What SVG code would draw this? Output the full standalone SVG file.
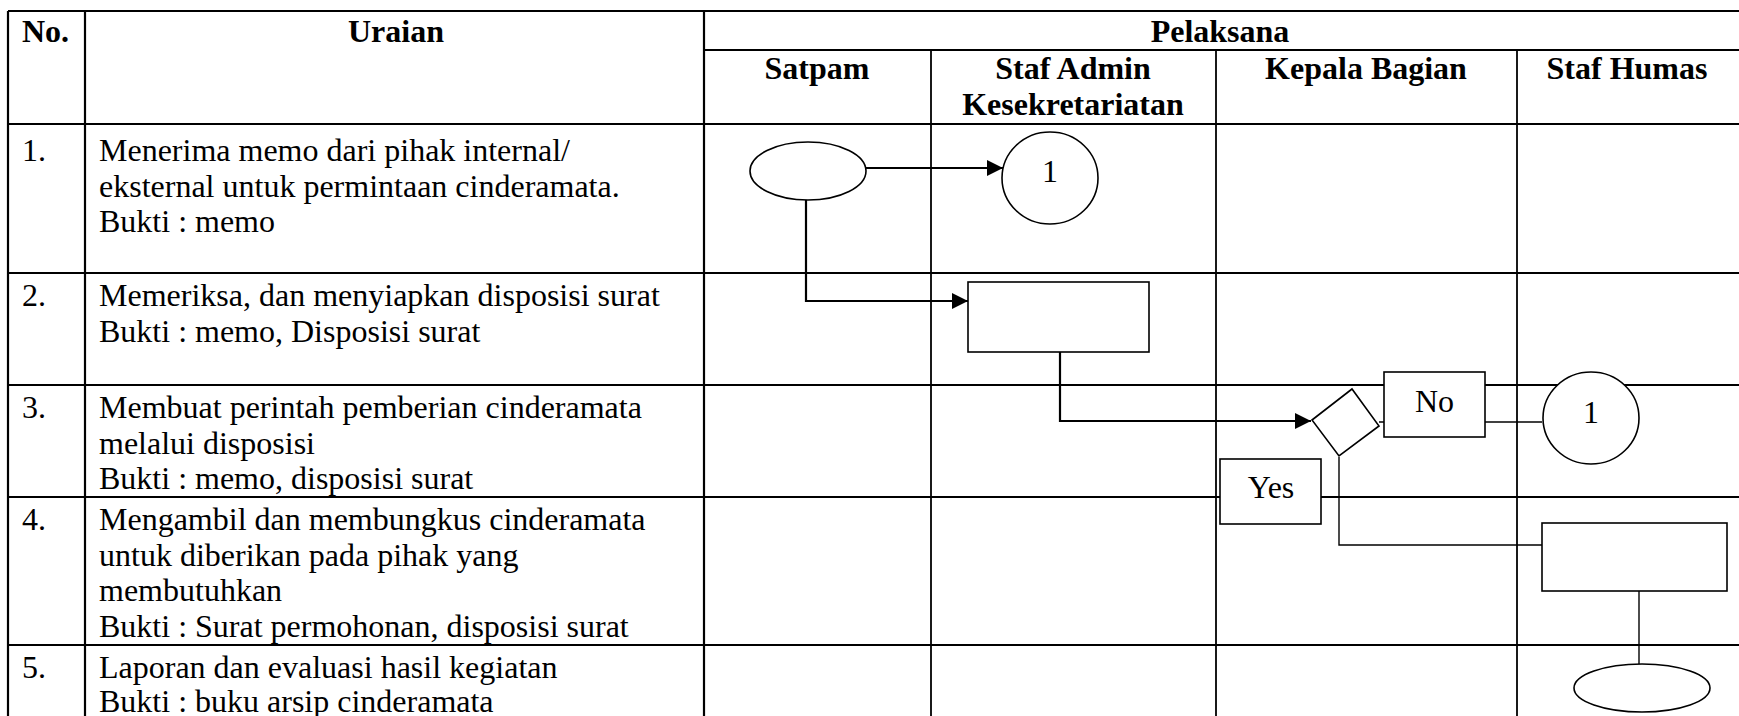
<svg xmlns="http://www.w3.org/2000/svg" width="1739" height="716" viewBox="0 0 1739 716">
<style>
  .grid { stroke: #000; stroke-width: 2.2; fill: none; }
  .gridthin { stroke: #000; stroke-width: 1.8; fill: none; }
  .shape { fill: #fff; stroke: #000; stroke-width: 1.6; }
  .conn { fill: none; stroke: #000; stroke-width: 1.4; }
  .arrow { fill: none; stroke: #000; stroke-width: 2.2; }
  .hd { font-family: "Liberation Serif", "Times New Roman", serif; font-weight: bold; font-size: 32px; fill: #000; }
  .tx { font-family: "Liberation Serif", "Times New Roman", serif; font-size: 32px; fill: #000; }
</style>
<defs>
  <marker id="ah" markerUnits="userSpaceOnUse" markerWidth="18" markerHeight="18" refX="16" refY="8" orient="auto">
    <path d="M0,0 L16,8 L0,16 Z" fill="#000"/>
  </marker>
</defs>
<rect x="0" y="0" width="1739" height="716" fill="#fff"/>

<g id="table">
  <line class="grid" x1="8" y1="11" x2="1739" y2="11"/>
  <line class="grid" x1="704" y1="50" x2="1739" y2="50"/>
  <line class="grid" x1="8" y1="124" x2="1739" y2="124"/>
  <line class="grid" x1="8" y1="273" x2="1739" y2="273"/>
  <line class="grid" x1="8" y1="385" x2="1739" y2="385"/>
  <line class="grid" x1="8" y1="497" x2="1739" y2="497"/>
  <line class="grid" x1="8" y1="645" x2="1739" y2="645"/>
  <line class="grid" x1="8" y1="11" x2="8" y2="716"/>
  <line class="grid" x1="85" y1="11" x2="85" y2="716"/>
  <line class="grid" x1="704" y1="11" x2="704" y2="716"/>
  <line class="gridthin" x1="931" y1="50" x2="931" y2="716"/>
  <line class="gridthin" x1="1216" y1="50" x2="1216" y2="716"/>
  <line class="gridthin" x1="1517" y1="50" x2="1517" y2="716"/>
</g>

<g id="headers">
  <text class="hd" x="22" y="42">No.</text>
  <text class="hd" x="396" y="42" text-anchor="middle">Uraian</text>
  <text class="hd" x="1220" y="42" text-anchor="middle">Pelaksana</text>
  <text class="hd" x="817" y="79" text-anchor="middle">Satpam</text>
  <text class="hd" x="1073" y="79" text-anchor="middle">Staf Admin</text>
  <text class="hd" x="1073" y="115" text-anchor="middle">Kesekretariatan</text>
  <text class="hd" x="1366" y="79" text-anchor="middle">Kepala Bagian</text>
  <text class="hd" x="1627" y="79" text-anchor="middle">Staf Humas</text>
</g>

<g id="rows">
  <text class="tx" x="22" y="161">1.</text>
  <text class="tx" x="99" y="161">Menerima memo dari pihak internal/</text>
  <text class="tx" x="99" y="196.5">eksternal untuk permintaan cinderamata.</text>
  <text class="tx" x="99" y="232">Bukti : memo</text>

  <text class="tx" x="22" y="306">2.</text>
  <text class="tx" x="99" y="306">Memeriksa, dan menyiapkan disposisi surat</text>
  <text class="tx" x="99" y="341.5">Bukti : memo, Disposisi surat</text>

  <text class="tx" x="22" y="418">3.</text>
  <text class="tx" x="99" y="418">Membuat perintah pemberian cinderamata</text>
  <text class="tx" x="99" y="453.5">melalui disposisi</text>
  <text class="tx" x="99" y="489">Bukti : memo, disposisi surat</text>

  <text class="tx" x="22" y="530">4.</text>
  <text class="tx" x="99" y="530">Mengambil dan membungkus cinderamata</text>
  <text class="tx" x="99" y="565.5">untuk diberikan pada pihak yang</text>
  <text class="tx" x="99" y="601">membutuhkan</text>
  <text class="tx" x="99" y="636.5">Bukti : Surat permohonan, disposisi surat</text>

  <text class="tx" x="22" y="678">5.</text>
  <text class="tx" x="99" y="678">Laporan dan evaluasi hasil kegiatan</text>
  <text class="tx" x="99" y="712">Bukti : buku arsip cinderamata</text>
</g>

<g id="connectors">
  <line class="arrow" x1="866" y1="168" x2="1003" y2="168" marker-end="url(#ah)"/>
  <polyline class="arrow" points="806,200 806,301 968,301" marker-end="url(#ah)"/>
  <polyline class="arrow" points="1060,352 1060,421 1311,421" marker-end="url(#ah)"/>
  <line class="conn" x1="1379" y1="422" x2="1542" y2="422"/>
  <polyline class="conn" points="1339,457 1339,545 1542,545"/>
  <line class="conn" x1="1639" y1="591" x2="1639" y2="664"/>
</g>

<g id="start">
  <ellipse class="shape" cx="808" cy="171" rx="58" ry="29"/>
</g>
<g id="connector-1a">
  <ellipse class="shape" cx="1050" cy="178" rx="48" ry="46"/>
  <text class="tx" x="1050" y="182" text-anchor="middle">1</text>
</g>
<g id="process-admin">
  <rect class="shape" x="968" y="282" width="181" height="70"/>
</g>
<g id="decision">
  <polygon class="shape" points="1312,420 1352,389 1379,426 1339,456"/>
</g>
<g id="label-no">
  <rect class="shape" x="1384" y="372" width="101" height="65"/>
  <text class="tx" x="1434.5" y="412" text-anchor="middle">No</text>
</g>
<g id="label-yes">
  <rect class="shape" x="1220" y="459" width="101" height="65"/>
  <text class="tx" x="1271" y="498" text-anchor="middle">Yes</text>
</g>
<g id="connector-1b">
  <ellipse class="shape" cx="1591" cy="418" rx="48" ry="46"/>
  <text class="tx" x="1591" y="423" text-anchor="middle">1</text>
</g>
<g id="process-humas">
  <rect class="shape" x="1542" y="523" width="185" height="68"/>
</g>
<g id="end">
  <ellipse class="shape" cx="1642" cy="688" rx="68" ry="24"/>
</g>
</svg>
